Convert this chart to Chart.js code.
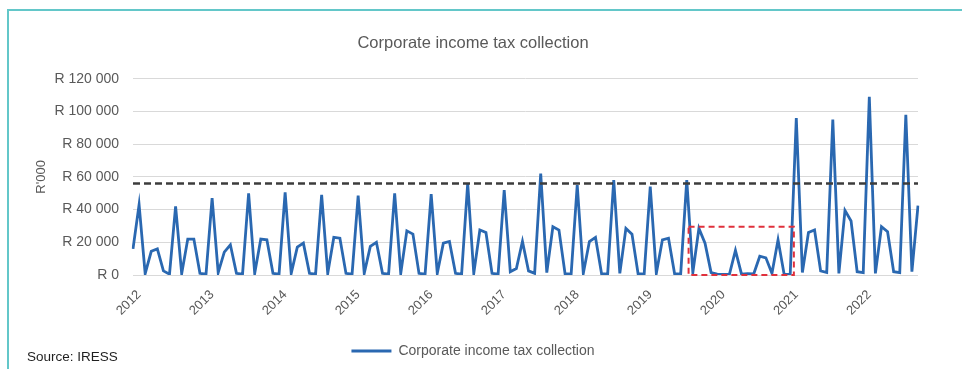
<!DOCTYPE html>
<html>
<head>
<meta charset="utf-8">
<title>Corporate income tax collection</title>
<script src="https://cdn.jsdelivr.net/npm/chart.js@4.4.1/dist/chart.umd.min.js"></script>
<style>
  html, body { margin: 0; padding: 0; background: #fff; overflow: hidden; }
  #wrap { position: relative; width: 962px; height: 369px; }
  #frame { position: absolute; left: 7px; top: 9px; width: 980px; height: 400px; border: 2px solid #63c7c9; box-sizing: border-box; }
  #taxChart { position: absolute; left: 0; top: 0; }
  #source { position: absolute; left: 27px; top: 349px; font: 13.5px "Liberation Sans", Arial, sans-serif; color: #1f1f1f; }
</style>
</head>
<body>
<div id="wrap">
  <div id="frame"></div>
  <canvas id="taxChart" width="962" height="369"></canvas>
  <div id="source">Source: IRESS</div>
</div>
<script>
// Monthly series, Dec 2011 to Sep 2022 (R'000)
const firstYear = 2011;
const firstMonth = 11; // 0-based, December
const monthNames = ["Jan", "Feb", "Mar", "Apr", "May", "Jun", "Jul", "Aug", "Sep", "Oct", "Nov", "Dec"];

const collection = [
  16000, 43000, 800, 14500, 16000, 2500, 500,
  42000, 800, 22000, 22000, 1000, 500,
  47000, 1500, 14000, 18500, 1000, 500,
  50000, 1000, 22000, 21500, 1000, 500,
  50500, 1000, 17000, 19500, 1000, 500,
  49000, 1000, 23000, 22500, 1000, 500,
  48500, 1000, 17500, 20000, 1000, 500,
  50000, 1000, 27000, 25000, 1000, 500,
  49500, 1000, 19500, 20500, 1000, 500,
  56000, 1000, 27500, 26000, 1000, 500,
  52000, 2000, 4000, 20500, 2500, 1000,
  62000, 1500, 29500, 27500, 800, 500,
  55000, 1000, 20500, 23000, 800, 500,
  58000, 1000, 28500, 25000, 800, 500,
  54000, 1000, 21500, 22500, 800, 500,
  58000, 1500, 28500, 19500, 1500, 500,
  300, 300, 15000, 500, 800, 600,
  11500, 10500, 1000, 21500, 500, 300,
  96000, 1500, 26000, 27500, 2500, 1500,
  95000, 1000, 39500, 33000, 2000, 1500,
  109000, 1000, 29500, 26500, 2000, 1500,
  98000, 2000, 42500
];

const benchmarkLevel = 56000;

// 2020 lockdown months, marked with a dashed box (category index / value units)
const lockdownFrom = 91.3;
const lockdownTo = 108.6;
const lockdownTop = 29500;

const yTicks = [0, 20000, 40000, 60000, 80000, 100000, 120000];

const months = collection.map((_, i) => {
  const m = (firstMonth + i) % 12;
  const y = firstYear + Math.floor((firstMonth + i) / 12);
  return monthNames[m] + " " + y;
});

const fontFamily = "'Liberation Sans', Arial, sans-serif";
const grey = "#595959";

const lockdownBox = {
  id: "lockdownBox",
  afterDatasetsDraw(chart) {
    const { ctx, scales: { x, y } } = chart;
    const left = x.getPixelForValue(lockdownFrom);
    const right = x.getPixelForValue(lockdownTo);
    const top = y.getPixelForValue(lockdownTop);
    const bottom = y.getPixelForValue(0);
    ctx.save();
    ctx.strokeStyle = "#e0303c";
    ctx.lineWidth = 2;
    ctx.setLineDash([6, 4]);
    ctx.strokeRect(left, top, right - left, bottom - top);
    ctx.restore();
  }
};

new Chart(document.getElementById("taxChart"), {
  type: "line",
  data: {
    labels: months,
    datasets: [
      {
        label: "Corporate income tax collection",
        data: collection,
        borderColor: "#2a68b1",
        backgroundColor: "#2a68b1",
        borderWidth: 2.8,
        pointRadius: 0,
        tension: 0,
        order: 1
      },
      {
        label: "Average",
        data: collection.map(() => benchmarkLevel),
        borderColor: "#3c3c3c",
        borderWidth: 2.5,
        borderDash: [7, 4],
        pointRadius: 0,
        order: 0
      }
    ]
  },
  options: {
    responsive: false,
    animation: false,
    layout: { padding: { left: 28, right: 44, top: 0, bottom: 1 } },
    plugins: {
      title: {
        display: true,
        text: "Corporate income tax collection",
        color: grey,
        font: { family: fontFamily, size: 16.5, weight: "normal" },
        padding: { top: 34, bottom: 25 }
      },
      legend: {
        position: "bottom",
        labels: {
          filter: (item) => item.datasetIndex === 0,
          color: grey,
          font: { family: fontFamily, size: 14 },
          boxWidth: 40,
          boxHeight: 0,
          padding: 10
        }
      },
      tooltip: { enabled: false }
    },
    scales: {
      x: {
        grid: { display: false, drawTicks: false },
        border: { display: false },
        ticks: {
          autoSkip: false,
          minRotation: 45,
          maxRotation: 45,
          padding: 12,
          color: grey,
          font: { family: fontFamily, size: 13 },
          callback: function (value) {
            const label = this.getLabelForValue(value);
            return label.startsWith("Jan") ? label.slice(4) : "";
          }
        },
        afterFit: (scale) => { scale.height = 59; }
      },
      y: {
        min: 0,
        max: 120000,
        afterBuildTicks: (scale) => { scale.ticks = yTicks.map((v) => ({ value: v })); },
        grid: { color: "#d9d9d9", drawTicks: false },
        border: { display: false },
        ticks: {
          padding: 14,
          color: grey,
          font: { family: fontFamily, size: 14 },
          callback: (v) => "R " + v.toLocaleString("en-US").replace(/,/g, " ")
        },
        title: {
          display: true,
          text: "R'000",
          color: grey,
          font: { family: fontFamily, size: 13 },
          padding: { top: 6, bottom: 0 }
        },
        afterFit: (scale) => { scale.width = 105; }
      }
    }
  },
  plugins: [lockdownBox]
});
</script>
</body>
</html>
